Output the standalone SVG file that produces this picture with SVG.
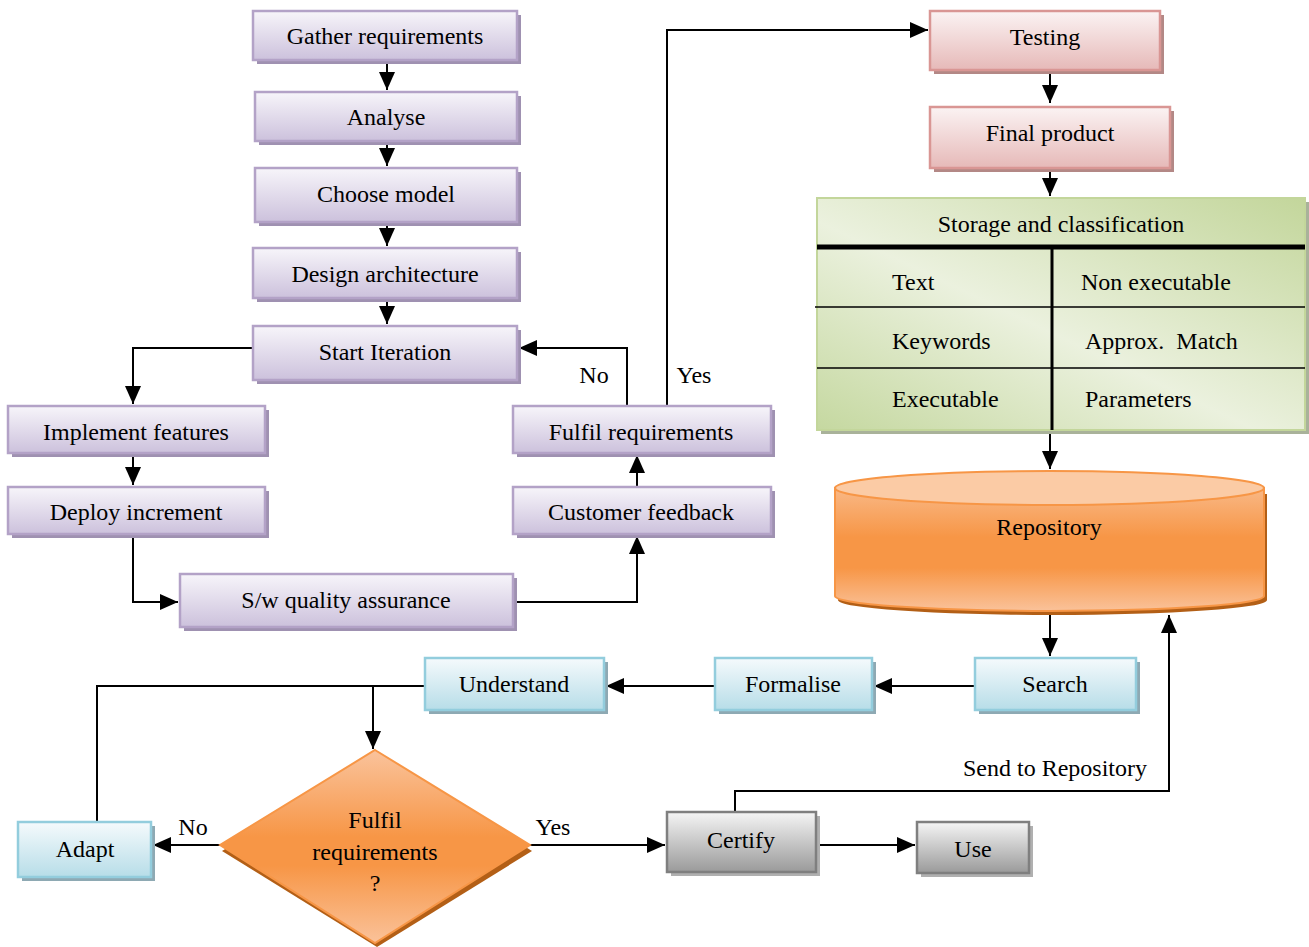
<svg xmlns="http://www.w3.org/2000/svg" width="1309" height="947" viewBox="0 0 1309 947">
<defs>
<linearGradient id="gP" x1="0" y1="0" x2="0" y2="1"><stop offset="0" stop-color="#f7f5fa"/><stop offset="1" stop-color="#ccc1dc"/></linearGradient>
<linearGradient id="gR" x1="0" y1="0" x2="0" y2="1"><stop offset="0" stop-color="#fbf3f3"/><stop offset="1" stop-color="#e6b9b8"/></linearGradient>
<linearGradient id="gB" x1="0" y1="0" x2="0" y2="1"><stop offset="0" stop-color="#f5fafc"/><stop offset="1" stop-color="#b7dde8"/></linearGradient>
<linearGradient id="gK" x1="0" y1="0" x2="0" y2="1"><stop offset="0" stop-color="#f5f5f5"/><stop offset="1" stop-color="#9a9a9a"/></linearGradient>
<linearGradient id="gG" x1="0" y1="1" x2="1" y2="0"><stop offset="0" stop-color="#c5d8a0"/><stop offset="0.45" stop-color="#ebf1de"/><stop offset="1" stop-color="#c3d69b"/></linearGradient>
<linearGradient id="gO" x1="0" y1="0" x2="0" y2="1"><stop offset="0" stop-color="#f9b886"/><stop offset="0.4" stop-color="#f79646"/><stop offset="0.65" stop-color="#f79646"/><stop offset="1" stop-color="#fac29a"/></linearGradient>
<linearGradient id="gD" x1="0" y1="0" x2="0" y2="1"><stop offset="0" stop-color="#fac39c"/><stop offset="0.45" stop-color="#f79646"/><stop offset="0.6" stop-color="#f79646"/><stop offset="1" stop-color="#fac29a"/></linearGradient>
<marker id="ar" viewBox="0 0 18 16" refX="18" refY="8" markerWidth="18" markerHeight="16" markerUnits="userSpaceOnUse" orient="auto"><path d="M0,0 L18,8 L0,16 Z" fill="#000"/></marker>
</defs>
<style>
text{font-family:"Liberation Serif","Times New Roman",serif;font-size:24px;fill:#000;text-anchor:middle}
.l{text-anchor:start}
.p{fill:url(#gP);stroke:#b3a2c7;stroke-width:2.5}
.ps{fill:#9f91b1}
.r{fill:url(#gR);stroke:#d99694;stroke-width:2.5}
.rs{fill:#b38886}
.b{fill:url(#gB);stroke:#93cddd;stroke-width:2.5}
.bs{fill:#8ea9b3}
.k{fill:url(#gK);stroke:#7f7f7f;stroke-width:2.5}
.ks{fill:#b0b0b0}
.c{fill:none;stroke:#000;stroke-width:2}
.a{fill:none;stroke:#000;stroke-width:2;marker-end:url(#ar)}
</style>
<rect width="1309" height="947" fill="#fff"/>
<g id="connectors">
<path class="a" d="M387,60 V90"/>
<path class="a" d="M387,141 V166"/>
<path class="a" d="M387,222 V246"/>
<path class="a" d="M387,298 V324"/>
<path class="a" d="M253,348 H133 V404"/>
<path class="a" d="M133,453 V485"/>
<path class="a" d="M133,534 V602 H178"/>
<path class="a" d="M513,602 H637 V536"/>
<path class="a" d="M637,487 V455"/>
<path class="a" d="M627,406 V348 H519"/>
<path class="a" d="M667,406 V30 H928"/>
<path class="a" d="M1050,70 V103"/>
<path class="a" d="M1050,168 V196"/>
<path class="a" d="M1050,430 V469"/>
<path class="a" d="M1050,614 V656"/>
<path class="a" d="M975,686 H874"/>
<path class="a" d="M715,686 H606"/>
<path class="c" d="M425,686 H97 V822"/>
<path class="a" d="M373,686 V749"/>
<path class="a" d="M221,845 H153"/>
<path class="a" d="M530,845 H665"/>
<path class="a" d="M816,845 H915"/>
<path class="a" d="M735,812 V791 H1169 V615"/>
<text x="594" y="383">No</text>
<text x="694" y="383">Yes</text>
<text x="193" y="835">No</text>
<text x="553" y="835">Yes</text>
<text x="1055" y="776">Send to Repository</text>
</g>
<g id="gather"><rect class="ps" x="257" y="15" width="264" height="49"/><rect class="p" x="253" y="11" width="264" height="49"/><text x="385" y="44">Gather requirements</text></g>
<g id="analyse"><rect class="ps" x="259" y="96" width="262" height="49"/><rect class="p" x="255" y="92" width="262" height="49"/><text x="386" y="125">Analyse</text></g>
<g id="choose"><rect class="ps" x="259" y="172" width="262" height="54"/><rect class="p" x="255" y="168" width="262" height="54"/><text x="386" y="202">Choose model</text></g>
<g id="design"><rect class="ps" x="257" y="252" width="264" height="50"/><rect class="p" x="253" y="248" width="264" height="50"/><text x="385" y="282">Design architecture</text></g>
<g id="start"><rect class="ps" x="257" y="330" width="264" height="54"/><rect class="p" x="253" y="326" width="264" height="54"/><text x="385" y="360">Start Iteration</text></g>
<g id="implement"><rect class="ps" x="12" y="410" width="257" height="47"/><rect class="p" x="8" y="406" width="257" height="47"/><text x="136" y="440">Implement features</text></g>
<g id="deploy"><rect class="ps" x="12" y="491" width="257" height="47"/><rect class="p" x="8" y="487" width="257" height="47"/><text x="136" y="520">Deploy increment</text></g>
<g id="swqa"><rect class="ps" x="184" y="578" width="333" height="53"/><rect class="p" x="180" y="574" width="333" height="53"/><text x="346" y="608">S/w quality assurance</text></g>
<g id="fulfil"><rect class="ps" x="517" y="410" width="258" height="47"/><rect class="p" x="513" y="406" width="258" height="47"/><text x="641" y="440">Fulfil requirements</text></g>
<g id="feedback"><rect class="ps" x="517" y="491" width="258" height="47"/><rect class="p" x="513" y="487" width="258" height="47"/><text x="641" y="520">Customer feedback</text></g>
<g id="testing"><rect class="rs" x="934" y="15" width="230" height="59"/><rect class="r" x="930" y="11" width="230" height="59"/><text x="1045" y="45">Testing</text></g>
<g id="final"><rect class="rs" x="934" y="111" width="240" height="61"/><rect class="r" x="930" y="107" width="240" height="61"/><text x="1050" y="141">Final product</text></g>
<g id="storage">
<rect x="821" y="202" width="488" height="232" fill="#a9b29a"/>
<rect x="817" y="198" width="488" height="232" fill="url(#gG)" stroke="#c3d69b" stroke-width="2"/>
<text x="1061" y="232">Storage and classification</text>
<line x1="817" y1="247" x2="1305" y2="247" stroke="#000" stroke-width="5"/>
<line x1="1052" y1="247" x2="1052" y2="430" stroke="#000" stroke-width="3"/>
<line x1="815" y1="307" x2="1305" y2="307" stroke="#000" stroke-width="1.5"/>
<line x1="817" y1="368" x2="1305" y2="368" stroke="#000" stroke-width="1.5"/>
<text class="l" x="892" y="290">Text</text>
<text class="l" x="1081" y="290">Non executable</text>
<text class="l" x="892" y="349">Keywords</text>
<text class="l" x="1085" y="349" xml:space="preserve">Approx.  Match</text>
<text class="l" x="892" y="407">Executable</text>
<text class="l" x="1085" y="407">Parameters</text>
</g>
<g id="repository">
<path d="M838,494 V600 A214.5,15 0 0 0 1267,600 V494 Z" fill="#b35f16"/>
<path d="M835,488 V596 A214.5,15 0 0 0 1264,596 V488 Z" fill="url(#gO)" stroke="#f79646" stroke-width="2"/>
<ellipse cx="1049.5" cy="488" rx="214.5" ry="17" fill="#fbcba5" stroke="#f79646" stroke-width="2"/>
<text x="1049" y="535">Repository</text>
</g>
<g id="search"><rect class="bs" x="979" y="662" width="161" height="52"/><rect class="b" x="975" y="658" width="161" height="52"/><text x="1055" y="692">Search</text></g>
<g id="formalise"><rect class="bs" x="719" y="662" width="157" height="52"/><rect class="b" x="715" y="658" width="157" height="52"/><text x="793" y="692">Formalise</text></g>
<g id="understand"><rect class="bs" x="429" y="662" width="179" height="52"/><rect class="b" x="425" y="658" width="179" height="52"/><text x="514" y="692">Understand</text></g>
<g id="decision">
<polygon points="377,754 532,851 377,947 222,851" fill="#b35f16"/>
<polygon points="375,750 530,845 375,943 220,845" fill="url(#gD)" stroke="#f79646" stroke-width="2"/>
<text x="375" y="828">Fulfil</text>
<text x="375" y="860">requirements</text>
<text x="375" y="891">?</text>
</g>
<g id="adapt"><rect class="bs" x="22" y="826" width="133" height="55"/><rect class="b" x="18" y="822" width="133" height="55"/><text x="85" y="857">Adapt</text></g>
<g id="certify"><rect class="ks" x="671" y="816" width="149" height="60"/><rect class="k" x="667" y="812" width="149" height="60"/><text x="741" y="848">Certify</text></g>
<g id="use"><rect class="ks" x="921" y="826" width="112" height="51"/><rect class="k" x="917" y="822" width="112" height="51"/><text x="973" y="857">Use</text></g>
</svg>
